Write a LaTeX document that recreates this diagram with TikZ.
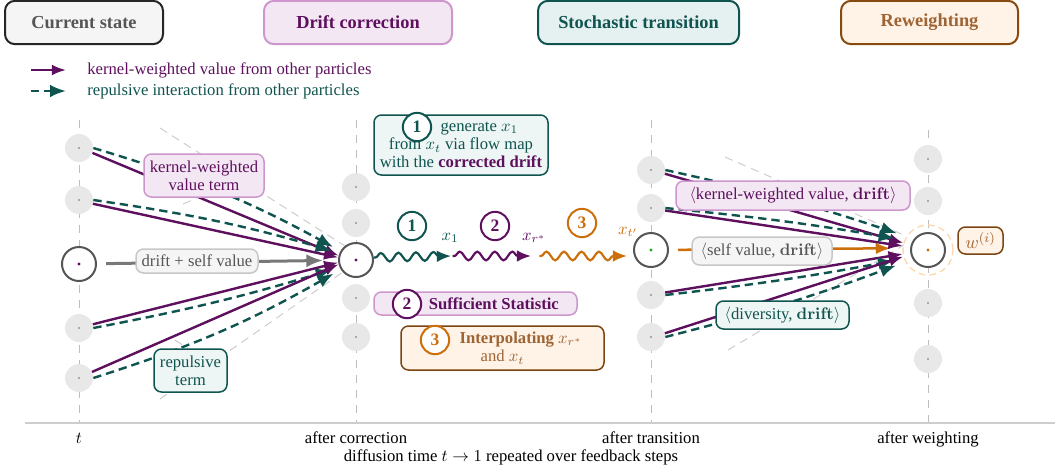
\documentclass[tikz,border=0pt]{standalone}
\usepackage[no-math]{fontspec}
\setmainfont{Liberation Serif}
\usetikzlibrary{arrows.meta,decorations.pathmorphing,shapes.geometric}
\definecolor{cpurple}{RGB}{94,16,94}
\definecolor{cteal}{RGB}{16,84,80}
\definecolor{corange}{RGB}{204,110,10}
\definecolor{cbrown}{RGB}{122,69,18}
\definecolor{ctbrown}{RGB}{158,100,52}
\definecolor{corchid}{RGB}{205,150,205}
\definecolor{fpurple}{RGB}{244,231,244}
\definecolor{ftealt}{RGB}{228,241,240}
\definecolor{fteal}{RGB}{238,246,245}
\definecolor{forange}{RGB}{255,242,230}
\definecolor{fgray}{RGB}{245,245,245}
\definecolor{partgray}{RGB}{232,232,232}
\definecolor{dotgray}{RGB}{150,150,150}
\definecolor{vgray}{RGB}{190,190,190}
\definecolor{conegray}{RGB}{205,205,205}
\definecolor{maingray}{RGB}{85,85,85}
\definecolor{selfgray}{RGB}{120,120,120}
\definecolor{txtgray}{RGB}{85,85,85}
\definecolor{halocol}{RGB}{255,215,175}
\definecolor{cgreen}{RGB}{20,170,20}
\begin{document}
\begin{tikzpicture}[x=0.6pt,y=-0.6pt,font=\fontsize{10}{11}\selectfont,
  part/.style={circle,fill=partgray,minimum size=16.8pt,inner sep=0pt},
  mainp/.style={circle,draw=maingray,line width=1.2pt,fill=white,minimum size=20.4pt,inner sep=0pt},
  title/.style={rounded corners=6pt,line width=1.2pt,inner sep=0pt,minimum height=26pt,font=\fontsize{11}{13}\selectfont\bfseries},
  lbl/.style={rounded corners=4.5pt,line width=0.9pt,inner sep=0pt,align=center},
  num/.style={circle,draw,fill=white,line width=1.2pt,minimum size=17pt,inner sep=0pt,font=\fontsize{10.5}{12}\selectfont\bfseries},
  kwarrow/.style={draw=cpurple,line width=1.45pt,-{Latex[length=8.5pt,width=6.5pt]}},
  reparrow/.style={draw=cteal,line width=1.45pt,dash pattern=on 5pt off 3pt,-{Latex[length=9.5pt,width=7.5pt]}},
  selfarrow/.style={draw=selfgray,line width=1.8pt,-{Latex[length=10pt,width=8pt]}},
  orarrow/.style={draw=corange,line width=1.5pt,-{Latex[length=9pt,width=7pt]}},
  snk/.style={line width=1.3pt,decorate,decoration={snake,amplitude=2.6pt,segment length=10.5pt,pre length=1pt,post length=7pt},-{Latex[length=8.5pt,width=7pt]}},
  vline/.style={draw=vgray,line width=0.6pt,dash pattern=on 5pt off 4pt},
  cone/.style={draw=conegray,line width=0.6pt,dash pattern=on 5pt off 3.5pt}]
\useasboundingbox (0,0) rectangle (1055,471);

% titles
\node[title,draw=black!85,fill=fgray,text=txtgray,minimum width=94.8pt] (T1) at (84,22.5) {Current state};
\node[title,draw=corchid,fill=fpurple,text=cpurple,minimum width=112.8pt] (T2) at (358,22.5) {Drift correction};
\node[title,draw=cteal,fill=ftealt,text=cteal,minimum width=120.6pt] (T3) at (638.5,22.5) {Stochastic transition};
\node[title,draw=cbrown!90!orange,fill=forange,text=ctbrown,minimum width=106.2pt] (T4) at (929.5,22.5) {Reweighting};

% legend
\coordinate (la1) at (31,70); \coordinate (lb1) at (66,70);
\coordinate (la2) at (31,91); \coordinate (lb2) at (66,91);
\draw[kwarrow] (la1) -- (lb1);
\draw[reparrow] (la2) -- (lb2);
\node[anchor=base west,text=cpurple,inner sep=0pt] (leg1) at (87,74) {kernel-weighted value from other particles};
\node[anchor=base west,text=cteal,inner sep=0pt] (leg2) at (87,95) {repulsive interaction from other particles};

% axis and columns
\draw[vline] (79,120) -- (79,423);
\draw[vline] (356,120) -- (356,423);
\draw[vline] (651,120) -- (651,423);
\draw[vline] (928,130) -- (928,423);
\draw[draw=conegray,line width=0.8pt] (25,423) -- (1055,423);

\node[anchor=base] (lt) at (79,443) {$t$};
\node[anchor=base] (lac) at (356,443) {after correction};
\node[anchor=base] (lat) at (651,443) {after transition};
\node[anchor=base] (law) at (928,443) {after weighting};
\node[anchor=base] (ldt) at (511,461) {diffusion time $t\rightarrow 1$ repeated over feedback steps};

% particles
\node[part] (g11) at (79,148) {};
\node[part] (g12) at (79,200) {};
\node[mainp] (m1) at (79,264) {};
\node[part] (g13) at (79,328) {};
\node[part] (g14) at (79,378) {};
\node[part] (g21) at (356,187) {};
\node[part] (g22) at (356,223) {};
\node[part] (g23) at (356,298) {};
\node[part] (g24) at (356,337) {};
\node[part] (g31) at (651,170) {};
\node[part] (g32) at (651,208) {};
\node[part] (g33) at (651,295) {};
\node[part] (g34) at (651,337) {};
\node[part] (g41) at (928,159) {};
\node[part] (g42) at (928,201) {};
\node[part] (g43) at (928,303) {};
\node[part] (g44) at (928,359) {};
\foreach \n in {g11,g12,g13,g14,g21,g22,g23,g24,g31,g32,g33,g34,g41,g42,g43,g44}
  \fill[dotgray] (\n) circle[radius=1.1];

% cones
\draw[cone] (160,128) -- (345,246);
\draw[cone] (160,399) -- (343,272);
\draw[cone] (725,157) -- (906,236);
\draw[cone] (728,350) -- (904,245);

\node[mainp] (m2) at (356,260) {};
\node[mainp] (m3) at (651,250) {};
\node[circle,draw=halocol,line width=0.8pt,dash pattern=on 4pt off 2.5pt,minimum size=30pt,inner sep=0pt] (halo) at (928,250) {};
\node[mainp] (m4) at (928,250) {};
\fill[cpurple] (m1) circle[radius=1.7];
\fill[cpurple] (m2) circle[radius=1.7];
\fill[cgreen] (m3) circle[radius=1.7];
\fill[corange] (m4) circle[radius=1.7];

% leader segments
\draw[cone] (183,204) -- (215,190);
\draw[cone] (175,340) -- (205,360);

% arrows column 1 -> 2
\draw[selfarrow,shorten <=5.5pt,shorten >=9pt] (m1) -- (m2);
\draw[kwarrow] (g11.-20) -- (m2.166);
\draw[reparrow,shorten >=5pt] (g11.east) to[bend left=6] (m2.150);
\draw[kwarrow] (g12.-15) -- (m2.172);
\draw[reparrow,shorten >=5pt] (g12.east) to[bend left=4] (m2.157);
\draw[kwarrow] (g13.15) -- (m2.188);
\draw[reparrow,shorten >=5pt] (g13.east) to[bend right=3] (m2.204);
\draw[kwarrow] (g14.25) -- (m2.194);
\draw[reparrow,shorten >=5pt] (g14.east) to[bend right=6] (m2.212);

% arrows column 3 -> 4
\draw[orarrow,shorten <=5.5pt,shorten >=7pt] (m3) -- (halo.176);
\draw[kwarrow] (g31.-15) -- (halo.164);
\draw[reparrow,shorten >=6pt] (g31.east) to[bend left=3] (halo.148);
\draw[kwarrow] (g32.-10) -- (halo.171);
\draw[reparrow,shorten >=6pt] (g32.east) to[bend left=2] (halo.157);
\draw[kwarrow] (g33.10) -- (halo.189);
\draw[reparrow,shorten >=6pt] (g33.east) to[bend right=2] (halo.200);
\draw[kwarrow] (g34.15) -- (halo.195);
\draw[reparrow,shorten >=6pt] (g34.east) to[bend right=3] (halo.208);

% snakes
\coordinate (x1pt) at (451,256);
\coordinate (xrpt) at (531,256);
\coordinate (xtpt) at (627,256);
\draw[snk,cteal] (m2.8) -- (x1pt);
\draw[snk,cpurple] ([xshift=1]x1pt) -- (xrpt);
\draw[snk,corange] ([xshift=5]xrpt) -- (xtpt);
\node[num,draw=cteal,text=cteal] (n1) at (412,226) {1};
\node[num,draw=cpurple,text=cpurple] (n2) at (495,226) {2};
\node[num,draw=corange,text=corange] (n3) at (582,223) {3};
\node[text=cteal,inner sep=0pt] (lx1) at (450,238) {$x_1$};
\node[text=cpurple,inner sep=0pt] (lxr) at (534,238) {$x_{r^*}$};
\node[text=corange,inner sep=0pt] (lxt) at (628,232) {$x_{t'}$};

% labels left
\node[lbl,fill=fpurple,draw=corchid,text=cpurple,minimum width=72pt,minimum height=25.8pt] (kwl) at (204,175.5) {kernel-weighted\\value term};
\node[lbl,fill=fgray,draw=black!22,text=txtgray,minimum width=73.2pt,minimum height=14.4pt] (dsv) at (197,261) {drift + self value};
\node[lbl,fill=fteal,draw=cteal,text=cteal,minimum width=43.8pt,minimum height=25.8pt] (rep) at (190.5,370.5) {repulsive\\term};

% labels right
\node[lbl,fill=fpurple,draw=corchid,text=cpurple,minimum width=140.4pt,minimum height=17.4pt] (kwd) at (793,195.5) {$\langle$kernel-weighted value, $\mathbf{drift}\rangle$};
\node[lbl,fill=fgray,draw=black!22,text=txtgray,minimum width=84pt,minimum height=16.8pt] (sv) at (762,251) {$\langle$self value, $\mathbf{drift}\rangle$};
\node[lbl,fill=fteal,draw=cteal,text=cteal,minimum width=79.8pt,minimum height=16.8pt] (div) at (782.5,315) {$\langle$diversity, $\mathbf{drift}\rangle$};
\node[lbl,fill=forange,draw=cbrown,text=ctbrown,minimum width=27pt,minimum height=16.2pt,font=\fontsize{11}{12}\selectfont] (wl) at (980.5,240.5) {$w^{(i)}$};

% middle boxes
\node[lbl,fill=fteal,draw=cteal,text=cteal,minimum width=104.4pt,minimum height=36pt] (gen) at (461,145) {\hspace*{22pt}generate $x_1$\\from $x_t$ via flow map\\with the \textcolor{cpurple}{\textbf{corrected drift}}};
\node[num,draw=cteal,text=cteal] (gn1) at (417,127) {1};
\node[lbl,fill=fpurple,draw=corchid,text=cpurple,minimum width=121.8pt,minimum height=13.8pt] (ss) at (475.5,303.5) {\hspace*{22pt}\textbf{Sufficient Statistic}};
\node[num,draw=cpurple,text=cpurple] (sn2) at (407,304) {2};
\node[lbl,fill=forange,draw=cbrown,text=ctbrown,minimum width=121.8pt,minimum height=26.4pt] (ip) at (502.5,348) {\hspace*{22pt}\textbf{Interpolating} $x_{r^*}$\\and $x_t$};
\node[num,draw=corange,text=corange] (in3) at (435,340) {3};
\end{tikzpicture}
\end{document}
